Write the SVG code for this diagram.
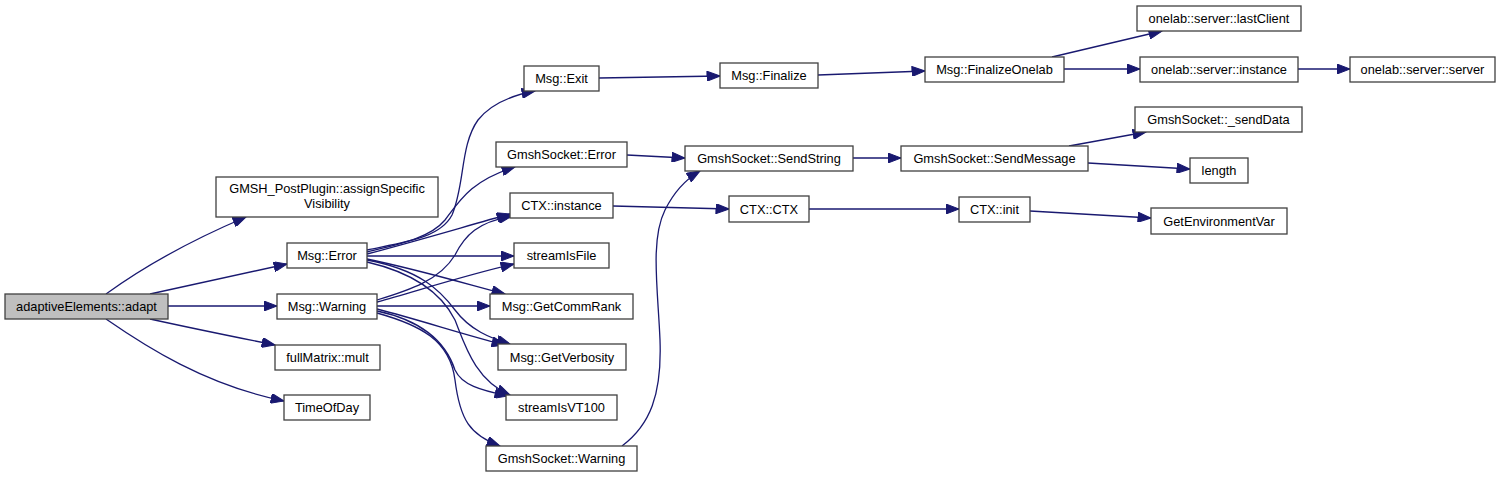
<svg xmlns="http://www.w3.org/2000/svg" width="1500" height="477" viewBox="0 0 1500 477">
<style>
.n rect{fill:#fff;stroke:#404040;stroke-width:1.3}
.n text{font-family:"Liberation Sans",Arial,sans-serif;font-size:12.8px;fill:#000;text-anchor:middle}
#n0 rect{fill:#bfbfbf}
.e path{fill:none;stroke:#191970;stroke-width:1.3;marker-end:url(#ah)}
</style>
<defs>
<marker id="ah" markerUnits="userSpaceOnUse" markerWidth="14" markerHeight="10" viewBox="0 0 13 10" refX="13" refY="5" orient="auto">
<path d="M0,0 L13,5 L0,10 z" fill="#191970" stroke="#191970" stroke-width="1"/>
</marker>
</defs>
<rect width="1500" height="477" fill="#fff"/>
<g class="e">
<path d="M106,294 C135,273 180,245 246,217"/>
<path d="M150,294 C200,283 245,273 287,264"/>
<path d="M168,306 L277,306"/>
<path d="M150,319 C200,330 240,338 275,345"/>
<path d="M106,319 C145,346 205,385 284,401"/>
<path d="M367,250 C405,242 440,238 452,215 C465,185 460,145 478,120 C490,105 508,96 535,91"/>
<path d="M367,252 C400,244 430,238 445,220 C460,200 472,180 515,167"/>
<path d="M367,254 C420,240 470,225 510,214"/>
<path d="M367,256 L514,256"/>
<path d="M367,259 C420,270 470,285 505,294"/>
<path d="M367,260 C420,270 440,290 455,310 C470,330 490,338 510,344"/>
<path d="M367,262 C410,272 440,290 455,320 C465,345 475,380 510,395"/>
<path d="M377,300 C410,290 440,280 455,255 C465,235 478,222 512,216"/>
<path d="M377,302 C420,290 470,274 514,264"/>
<path d="M377,306 L490,306"/>
<path d="M377,309 C420,320 465,335 505,345"/>
<path d="M377,311 C420,320 445,340 455,370 C462,385 480,390 508,396"/>
<path d="M377,313 C420,325 450,340 455,380 C460,420 470,435 500,446"/>
<path d="M622,446 C650,425 662,395 660,340 C658,290 650,240 665,210 C675,190 688,178 700,171"/>
<path d="M627,155 L685,158"/>
<path d="M613,206 L729,209"/>
<path d="M599,78 L720,76"/>
<path d="M818,75 L925,71"/>
<path d="M1052,57 L1162,31"/>
<path d="M1064,69 L1140,69"/>
<path d="M1298,69 L1350,69"/>
<path d="M853,158 L901,158"/>
<path d="M1069,146 L1146,132"/>
<path d="M1088,163 L1190,169"/>
<path d="M809,209 L959,209"/>
<path d="M1030,211 L1151,218"/>
</g>
<g id="n0" class="n"><rect x="5" y="294" width="163" height="25"/><text x="86.5" y="311">adaptiveElements::adapt</text></g>
<g id="n1" class="n"><rect x="216" y="177" width="222" height="40"/><text x="327" y="193">GMSH_PostPlugin::assignSpecific</text><text x="327" y="208">Visibility</text></g>
<g id="n2" class="n"><rect x="287" y="243" width="80" height="25"/><text x="327" y="260">Msg::Error</text></g>
<g id="n3" class="n"><rect x="277" y="294" width="100" height="25"/><text x="327" y="311">Msg::Warning</text></g>
<g id="n4" class="n"><rect x="275" y="345" width="105" height="25"/><text x="327.5" y="362">fullMatrix::mult</text></g>
<g id="n5" class="n"><rect x="284" y="395" width="86" height="25"/><text x="327" y="412">TimeOfDay</text></g>
<g id="n6" class="n"><rect x="524" y="66" width="75" height="25"/><text x="561.5" y="83">Msg::Exit</text></g>
<g id="n7" class="n"><rect x="496" y="142" width="131" height="25"/><text x="561.5" y="159">GmshSocket::Error</text></g>
<g id="n8" class="n"><rect x="510" y="193" width="103" height="25"/><text x="561.5" y="210">CTX::instance</text></g>
<g id="n9" class="n"><rect x="514" y="243" width="95" height="25"/><text x="561.5" y="260">streamIsFile</text></g>
<g id="n10" class="n"><rect x="490" y="294" width="143" height="25"/><text x="561.5" y="311">Msg::GetCommRank</text></g>
<g id="n11" class="n"><rect x="498" y="344" width="128" height="26"/><text x="562" y="362">Msg::GetVerbosity</text></g>
<g id="n12" class="n"><rect x="506" y="395" width="111" height="25"/><text x="561.5" y="412">streamIsVT100</text></g>
<g id="n13" class="n"><rect x="486" y="446" width="151" height="25"/><text x="561.5" y="463">GmshSocket::Warning</text></g>
<g id="n14" class="n"><rect x="720" y="63" width="98" height="25"/><text x="769" y="80">Msg::Finalize</text></g>
<g id="n15" class="n"><rect x="685" y="146" width="168" height="25"/><text x="769" y="163">GmshSocket::SendString</text></g>
<g id="n16" class="n"><rect x="729" y="196" width="80" height="26"/><text x="769" y="214">CTX::CTX</text></g>
<g id="n17" class="n"><rect x="925" y="57" width="139" height="25"/><text x="994.5" y="74">Msg::FinalizeOnelab</text></g>
<g id="n18" class="n"><rect x="901" y="146" width="187" height="25"/><text x="994.5" y="163">GmshSocket::SendMessage</text></g>
<g id="n19" class="n"><rect x="959" y="197" width="71" height="25"/><text x="994.5" y="214">CTX::init</text></g>
<g id="n20" class="n"><rect x="1137" y="6" width="164" height="25"/><text x="1219" y="23">onelab::server::lastClient</text></g>
<g id="n21" class="n"><rect x="1140" y="57" width="158" height="25"/><text x="1219" y="74">onelab::server::instance</text></g>
<g id="n22" class="n"><rect x="1350" y="57" width="145" height="25"/><text x="1422.5" y="74">onelab::server::server</text></g>
<g id="n23" class="n"><rect x="1135" y="107" width="167" height="25"/><text x="1218.5" y="124">GmshSocket::_sendData</text></g>
<g id="n24" class="n"><rect x="1190" y="158" width="58" height="25"/><text x="1219" y="175">length</text></g>
<g id="n25" class="n"><rect x="1151" y="208" width="136" height="26"/><text x="1219" y="226">GetEnvironmentVar</text></g>
</svg>
